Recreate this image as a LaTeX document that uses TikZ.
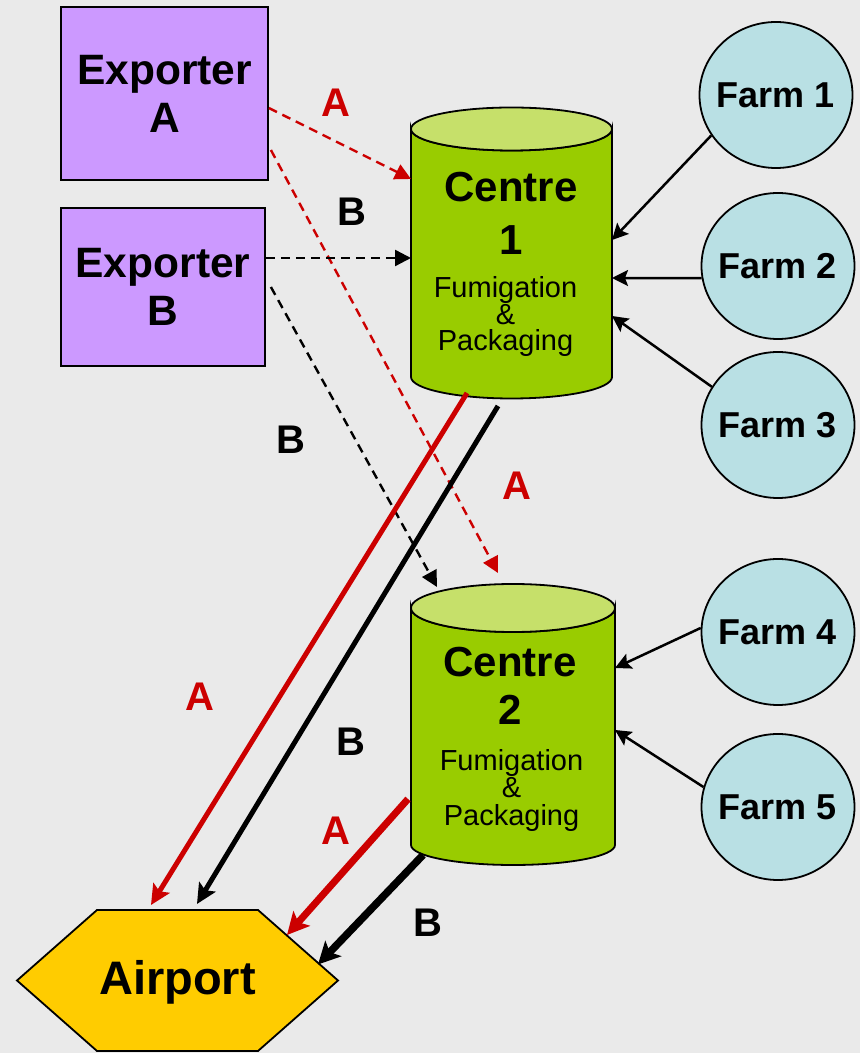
\documentclass[tikz,border=0pt]{standalone}
\usepackage{fontspec}
\setmainfont{Liberation Sans}
\usetikzlibrary{arrows.meta,shapes.geometric,calc}

\definecolor{bgc}{HTML}{EAEAEA}
\definecolor{expc}{HTML}{CC99FF}
\definecolor{cylbody}{HTML}{99CC00}
\definecolor{cyltop}{HTML}{C6E06A}
\definecolor{farmc}{HTML}{B9E0E4}
\definecolor{airc}{HTML}{FFCC00}
\definecolor{redc}{HTML}{CC0000}

% allow lines closer than their natural boxes
\newcommand\tightlines{\lineskiplimit=-20pt\relax}
% text that does not widen the shape around it
\newcommand\zw[1]{\makebox[0pt]{#1}}

\begin{document}
\begin{tikzpicture}[x=1pt,y=1pt,
  outline/.style={draw=black,line width=1.8pt},
  exporter/.style={outline,fill=expc,rectangle,inner sep=0pt,align=center,
    font=\fontsize{42.5}{48}\selectfont\bfseries},
  farm/.style={outline,fill=farmc,ellipse,inner sep=0pt,
    minimum width=153pt,minimum height=146pt,
    font=\fontsize{36}{40}\selectfont\bfseries},
  geom/.style={rectangle,inner sep=0pt,outer sep=0pt},
  cylside/.style={outline,fill=cylbody},
  cylcap/.style={outline,fill=cyltop},
  titletext/.style={anchor=north,inner sep=0pt,align=center},
  subtext/.style={anchor=north,inner sep=0pt,align=center},
  lab/.style={inner sep=0pt,text depth=0pt,font=\fontsize{40}{44}\selectfont\bfseries},
  dashA/.style={draw=redc,line width=2.4pt,dash pattern=on 9pt off 6pt,
    -{Triangle[length=16pt,width=16pt]}},
  dashB/.style={draw=black,line width=2.4pt,dash pattern=on 9pt off 6pt,
    -{Triangle[length=16pt,width=16pt]}},
  farmarrow/.style={draw=black,line width=2.5pt,
    -{Stealth[length=16pt,width=16pt,inset=3pt]}},
  shipA/.style={draw=redc,line width=5pt,
    -{Stealth[length=20pt,width=19pt,inset=4pt]}},
  shipB/.style={draw=black,line width=5pt,
    -{Stealth[length=20pt,width=19pt,inset=4pt]}},
  shipAthick/.style={draw=redc,line width=7pt,
    -{Stealth[length=22pt,width=22pt,inset=5pt]}},
  shipBthick/.style={draw=black,line width=7.5pt,
    -{Stealth[length=22pt,width=22pt,inset=5pt]}}
]
\fill[bgc] (0,0) rectangle (860,1053);
\useasboundingbox (0,0) rectangle (860,1053);

% exporters
\node[exporter,minimum width=207pt,minimum height=173pt] (expA) at (164.5,959.5) {Exporter\\A};
\node[exporter,minimum width=204pt,minimum height=158pt] (expB) at (163,766) {Exporter\\B};

% farms
\node[farm] (f1) at (776,958) {\zw{Farm 1}};
\node[farm] (f2) at (778,787) {\zw{Farm 2}};
\node[farm] (f3) at (778,628) {\zw{Farm 3}};
\node[farm] (f4) at (778,421) {\zw{Farm 4}};
\node[farm] (f5) at (778,246) {\zw{Farm 5}};

% centre 1 (cylinder)
\node[geom,minimum width=201pt,minimum height=248pt] (c1) at (511.5,800) {};
\path[cylside] (c1.north west) -- (c1.south west)
  arc[start angle=180,end angle=360,x radius=100.5pt,y radius=21.5pt]
  -- (c1.north east)
  arc[start angle=0,end angle=-180,x radius=100.5pt,y radius=21.5pt] -- cycle;
\path[cylcap] (c1.north) ellipse[x radius=100.5pt,y radius=21.5pt];
\node[titletext,font=\fontsize{42}{53}\selectfont\bfseries] (c1title) at (511,881.5) {Centre\\1};
\node[subtext,font=\fontsize{29}{26.5}\selectfont\tightlines] (c1sub) at (505.5,776.5) {Fumigation\\\&\\Packaging};

% centre 2 (cylinder)
\node[geom,minimum width=204pt,minimum height=237pt] (c2) at (513,326.5) {};
\path[cylside] (c2.north west) -- (c2.south west)
  arc[start angle=180,end angle=360,x radius=102pt,y radius=20pt]
  -- (c2.north east)
  arc[start angle=0,end angle=-180,x radius=102pt,y radius=24pt] -- cycle;
\path[cylcap] (c2.north) ellipse[x radius=102pt,y radius=24pt];
\node[titletext,font=\fontsize{42}{48}\selectfont\bfseries] (c2title) at (510,406.5) {Centre\\2};
\node[subtext,font=\fontsize{29}{27.5}\selectfont\tightlines] (c2sub) at (511.5,304) {Fumigation\\\&\\Packaging};

% airport (hexagon)
\node[geom,minimum width=321pt,minimum height=141pt] (airport) at (177.5,72.5) {};
\path[outline,fill=airc] (airport.west) -- ([xshift=80pt]airport.north west)
  -- ([xshift=-80pt]airport.north east) -- (airport.east)
  -- ([xshift=-80pt]airport.south east) -- ([xshift=80pt]airport.south west) -- cycle;
\node[inner sep=0pt,text depth=0pt,font=\fontsize{47}{52}\selectfont\bfseries] (airlabel) at (177.5,75.5) {Airport};

% exporter orders (dashed)
\draw[dashA] ([yshift=-14.5pt]expA.east) -- ([yshift=74pt]c1.west);
\draw[dashA] ([xshift=2pt,yshift=-56.5pt]expA.east) -- ([xshift=-15pt,yshift=35pt]c2.north);
\draw[dashB] ([yshift=29pt]expB.east) -- ([yshift=-5pt]c1.west);
\draw[dashB] ([xshift=5pt]expB.east) -- ([xshift=-76pt,yshift=21pt]c2.north);

% farm supplies
\draw[farmarrow] (f1.212) -- ([yshift=13pt]c1.east);
\draw[farmarrow] (f2.189) -- ([yshift=-25pt]c1.east);
\draw[farmarrow] (f3.150) -- ([yshift=-63pt]c1.east);
\draw[farmarrow] (f4.177) -- ([yshift=58.5pt]c2.east);
\draw[farmarrow] (f5.165) -- ([yshift=-3.5pt]c2.east);

% shipments to the airport
\draw[shipA] ([xshift=-44.5pt,yshift=-16pt]c1.south) -- ([xshift=-26.5pt,yshift=5pt]airport.north);
\draw[shipB] ([xshift=-13.5pt,yshift=-29pt]c1.south) -- ([xshift=19.5pt,yshift=6pt]airport.north);
\draw[shipAthick] ([xshift=-3pt,yshift=-72.5pt]c2.west) -- ([xshift=-51pt,yshift=-25pt]airport.north east);
\draw[shipBthick] ([xshift=-90pt,yshift=-10pt]c2.south) -- ([xshift=-20pt,yshift=16pt]airport.east);

% route labels
\node[lab,text=redc] (la1) at (336,950) {A};
\node[lab] (lb1) at (352,841) {B};
\node[lab] (lb2) at (291,613) {B};
\node[lab,text=redc] (la2) at (517,567) {A};
\node[lab,text=redc] (la3) at (200,356) {A};
\node[lab] (lb3) at (351,311) {B};
\node[lab,text=redc] (la4) at (336,222) {A};
\node[lab] (lb4) at (428,130) {B};
\end{tikzpicture}
\end{document}
